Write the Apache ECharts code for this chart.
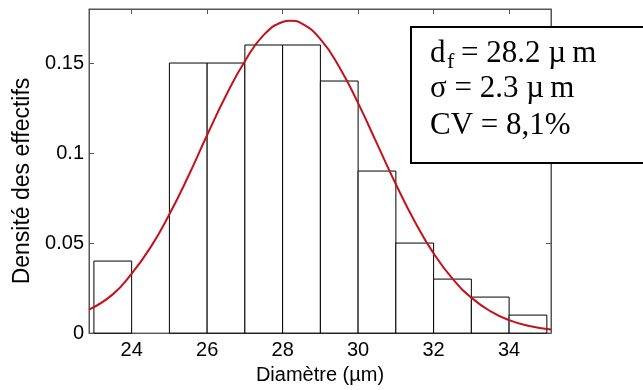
<!DOCTYPE html>
<html><head><meta charset="utf-8">
<script src="https://cdn.jsdelivr.net/npm/echarts@6/dist/echarts.min.js"></script>
<style>html,body{margin:0;padding:0;background:#fff}#c{width:643px;height:390px}</style>
</head><body><div id="c"></div>
<script>
// Histogram bins (µm) and densities
const binLeft  = [23, 24, 25, 26, 27, 28, 29, 30, 31, 32, 33, 34];
const binRight = [24, 25, 26, 27, 28, 29, 30, 31, 32, 33, 34, 35];
const density  = [0.04, 0, 0.15, 0.15, 0.16, 0.16, 0.14, 0.09, 0.05, 0.03, 0.02, 0.01];
// Fitted curve
const fitX = [22.87, 23.5, 24, 24.5, 25, 25.5, 26, 26.5, 27, 27.5, 28, 28.2, 28.5, 29, 29.5, 30, 30.5, 31, 31.5, 32, 32.5, 33, 33.5, 34, 34.5, 35.11];
const fitY = [0.013, 0.0215, 0.033, 0.0476, 0.066, 0.0871, 0.110, 0.132, 0.151, 0.1656, 0.1728, 0.1735, 0.172, 0.1633, 0.1478, 0.1277, 0.1052, 0.0827, 0.062, 0.0443, 0.0302, 0.0197, 0.0122, 0.0072, 0.0041, 0.002];
const xTicks = [24, 26, 28, 30, 32, 34];
const yTicks = [0, 0.05, 0.1, 0.15];
const xTitle = 'Diamètre (µm)';
const yTitle = 'Densité des effectifs';
const statSub = 'f';
const statLine1 = '= 28.2 µ\u2009m';
const statLine2 = 'σ = 2.3 µ\u2009m';
const statLine3 = 'CV = 8,1%';

const barData = binLeft.map((l, i) => [l, binRight[i], density[i]]);
const fitData = fitX.map((x, i) => [x, fitY[i]]);

const AX = '#555';
const sans = 'Liberation Sans, Arial, sans-serif';
const serif = 'Liberation Serif, Times New Roman, serif';
const xMin = 22.87, xMax = 35.11;

function frameAxis(pos, min, max, ticks) {
  return {
    type: 'value', position: pos, min: min, max: max,
    axisLine: {show: true, onZero: false, lineStyle: {color: AX, width: 1}},
    axisTick: {show: true, inside: true, length: 5, customValues: ticks, lineStyle: {color: AX}},
    axisLabel: {show: false}, splitLine: {show: false}
  };
}

const chart = echarts.init(document.getElementById('c'), null, {renderer: 'canvas'});
chart.setOption({
  animation: false,
  backgroundColor: '#fff',
  grid: {left: 89, right: 92, top: 9, bottom: 54, containLabel: false,
         show: true, borderColor: AX, borderWidth: 1, backgroundColor: 'transparent'},
  xAxis: [{
    type: 'value', position: 'bottom', min: xMin, max: xMax,
    axisLine: {show: true, onZero: false, lineStyle: {color: AX, width: 1}},
    axisTick: {show: true, inside: true, length: 5, customValues: xTicks, lineStyle: {color: AX}},
    axisLabel: {customValues: xTicks, fontSize: 20, color: '#000', margin: 7, fontFamily: sans},
    splitLine: {show: false},
    name: xTitle, nameLocation: 'middle', nameGap: 30,
    nameTextStyle: {fontSize: 20, color: '#000', fontFamily: sans}
  }, frameAxis('top', xMin, xMax, xTicks)],
  yAxis: [{
    type: 'value', position: 'left', min: 0, max: 0.18,
    axisLine: {show: true, onZero: false, lineStyle: {color: AX, width: 1}},
    axisTick: {show: true, inside: true, length: 5, customValues: yTicks, lineStyle: {color: AX}},
    axisLabel: {customValues: yTicks, fontSize: 20, color: '#000', margin: 5, fontFamily: sans},
    splitLine: {show: false}
  }, frameAxis('right', 0, 0.18, yTicks)],
  series: [{
    type: 'custom', xAxisIndex: 0, yAxisIndex: 0,
    data: barData,
    renderItem: function (params, api) {
      const h = api.value(2);
      if (!h) return null;
      const p0 = api.coord([api.value(0), h]);
      const p1 = api.coord([api.value(1), 0]);
      return {
        type: 'rect',
        shape: {x: p0[0], y: p0[1], width: p1[0] - p0[0], height: p1[1] - p0[1]},
        style: {fill: '#fff', stroke: '#000', lineWidth: 1}
      };
    },
    z: 2
  }, {
    type: 'line', xAxisIndex: 0, yAxisIndex: 0,
    data: fitData, smooth: true, showSymbol: false, symbol: 'none',
    lineStyle: {color: '#c4121c', width: 2},
    z: 5
  }],
  graphic: [
    {type: 'text', x: 23, y: 181, rotation: Math.PI / 2, z: 11,
     style: {text: yTitle, font: '23px ' + sans, fill: '#000', align: 'center', verticalAlign: 'middle'}},
    {type: 'rect', left: 410, top: 26, z: 10,
     shape: {width: 250, height: 136},
     style: {fill: '#fff', stroke: '#000', lineWidth: 2}},
    {type: 'text', x: 430, y: 54, z: 11,
     style: {text: 'd', font: '31px ' + serif, fill: '#000', verticalAlign: 'middle'}},
    {type: 'text', x: 447, y: 62, z: 11,
     style: {text: statSub, font: '22px ' + serif, fill: '#000', verticalAlign: 'middle'}},
    {type: 'text', x: 461, y: 54, z: 11,
     style: {text: statLine1, font: '31px ' + serif, fill: '#000', verticalAlign: 'middle'}},
    {type: 'text', x: 430, y: 89, z: 11,
     style: {text: statLine2, font: '31px ' + serif, fill: '#000', verticalAlign: 'middle'}},
    {type: 'text', x: 430, y: 126, z: 11,
     style: {text: statLine3, font: '31px ' + serif, fill: '#000', verticalAlign: 'middle'}}
  ]
});
</script></body></html>
